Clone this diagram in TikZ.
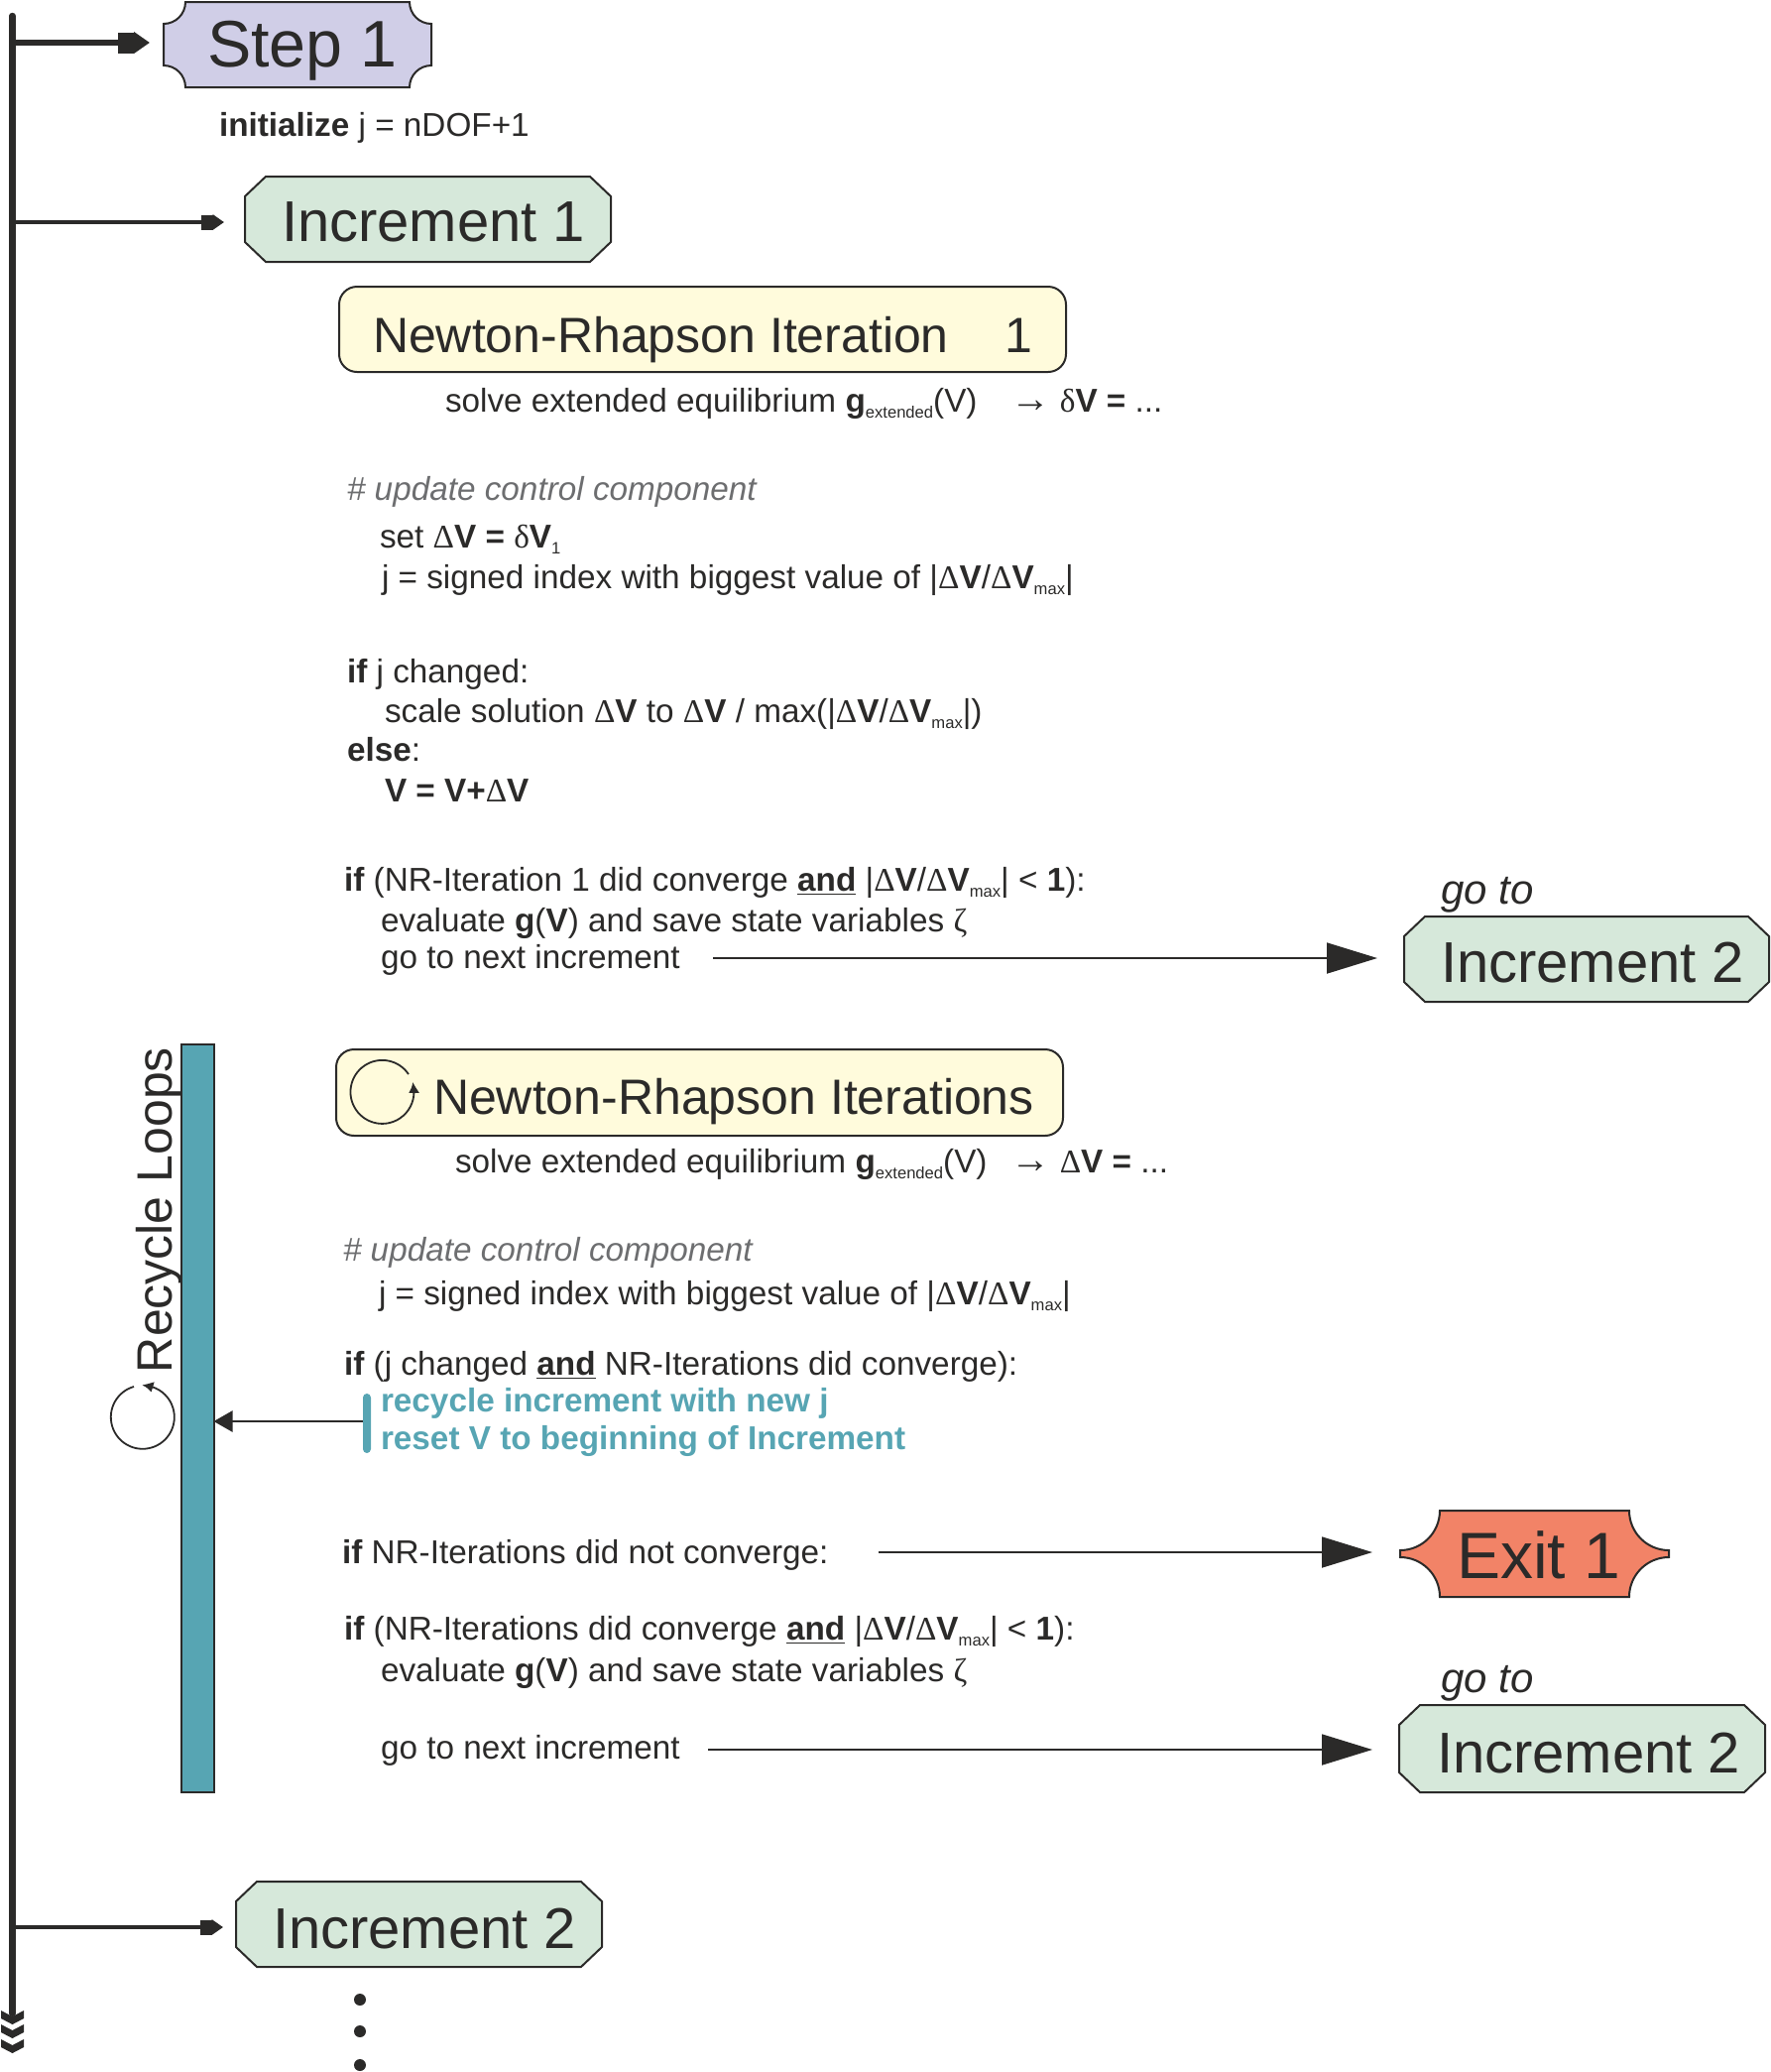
\documentclass[tikz,border=0pt]{standalone}
\usepackage{fontspec}
\setmainfont{Liberation Sans}
\newfontfamily\symf{Liberation Serif}
\usetikzlibrary{arrows.meta,bending}
\definecolor{ink}{HTML}{2B2A29}
\definecolor{stepfill}{HTML}{D0CEE7}
\definecolor{incfill}{HTML}{D6E8DA}
\definecolor{nrfill}{HTML}{FFFBDC}
\definecolor{exitfill}{HTML}{F28367}
\definecolor{teal}{HTML}{57A5B3}
\definecolor{note}{HTML}{6D6E70}
\newcommand{\szbody}{\fontsize{16.65}{19}\selectfont}
\newcommand{\Dl}{{\symf Δ}}
\newcommand{\dl}{{\symf δ}}
\newcommand{\zt}{{\symf ζ}}
\newcommand{\arr}{{\fontsize{20}{20}\selectfont\symf →}}
\newcommand{\bV}{\textbf{V}}
\newcommand{\subx}[1]{\raisebox{-3.2pt}{\fontsize{8.3}{9}\selectfont #1}}
\tikzset{
  x=0.5pt,y=0.5pt,
  every node/.style={text=ink,inner sep=0pt,outer sep=0pt},
  tx/.style={anchor=base west,font=\szbody},
  notetx/.style={anchor=base west,font=\szbody\itshape,text=note},
  tealtx/.style={anchor=base west,font=\szbody\bfseries,text=teal},
  bigtx/.style={anchor=base west,font=\fontsize{29}{32}\selectfont},
  gotx/.style={anchor=base west,font=\fontsize{21}{24}\selectfont\itshape},
  outline/.style={draw=ink,line width=1pt,line join=miter},
  branchA/.style={draw=ink,line width=3pt,-{Rectangle[length=8pt,width=10.5pt,sep=0pt]Triangle[length=8pt,width=10.5pt]}},
  branchB/.style={draw=ink,line width=2.2pt,-{Rectangle[length=5.7pt,width=7.5pt,sep=0pt]Triangle[length=5.7pt,width=7.5pt]}},
  golink/.style={draw=ink,line width=0.9pt,-{Triangle[length=25.5pt,width=15.5pt]}},
  backlink/.style={draw=ink,line width=1.2pt,-{Triangle[length=9.5pt,width=10.5pt]}},
  loopicon/.style={draw=ink,line width=0.9pt,-{Latex[length=5.5pt,width=5.5pt,flex=1,bend]}},
}
% \octbox{name}{x1}{y1}{x2}{y2}{fill}
\newcommand{\octbox}[6]{%
  \path[outline,fill=#6] (#2+21,-#3) -- (#4-21,-#3) -- (#4,-#3-20) -- (#4,-#5+20) -- (#4-21,-#5) -- (#2+21,-#5) -- (#2,-#5+20) -- (#2,-#3-20) -- cycle;
  \coordinate (#1) at ({0.5*(#2+#4)},{-0.5*(#3+#5)});
}
% \notchbox{name}{x1}{y1}{x2}{y2}{fill}{radius in px}
\newcommand{\notchbox}[7]{%
  \path[outline,fill=#6] (#2+#7,-#3) -- (#4-#7,-#3)
    arc[start angle=180,end angle=270,radius=#7*0.5pt]
    -- (#4,-#5+#7) arc[start angle=90,end angle=180,radius=#7*0.5pt]
    -- (#2+#7,-#5) arc[start angle=0,end angle=90,radius=#7*0.5pt]
    -- (#2,-#3-#7) arc[start angle=270,end angle=360,radius=#7*0.5pt] -- cycle;
  \coordinate (#1) at ({0.5*(#2+#4)},{-0.5*(#3+#5)});
}
\begin{document}
\begin{tikzpicture}
\useasboundingbox (0,0) rectangle (1786,-2089);
% trunk
\coordinate (trunktop) at (12.5,-16);
\coordinate (trunkbot) at (12.5,-2030);
\draw[ink,line width=3.2pt,line cap=round] (trunktop) -- (trunkbot);
\foreach \yy in {2027,2041,2056}{
  \fill[ink] (1,-\yy) -- (12.5,-\yy-6) -- (24,-\yy) -- (24,-\yy-8) -- (12.5,-\yy-14) -- (1,-\yy-8) -- cycle;
}
% step
\notchbox{step1}{165}{2}{435}{88}{stepfill}{22}
\node[anchor=base west,font=\fontsize{33.2}{36}\selectfont] (step1t) at (209,-67) {Step 1};
\node[tx] (init) at (221,-137) {\textbf{initialize} j = nDOF+1};
\coordinate (t1) at (12.5,-43);
\coordinate (t1e) at (151,-43);
\draw[branchA] (t1) -- (t1e);
% increment 1
\octbox{inc1}{247}{178}{616}{264}{incfill}
\node[bigtx] (inc1t) at (284,-243) {Increment 1};
\coordinate (t2) at (12.5,-224);
\coordinate (t2e) at (226,-224);
\draw[branchB] (t2) -- (t2e);
% NR 1
\path[outline,fill=nrfill,rounded corners=9pt] (342,-289) rectangle (1075,-375);
\node[anchor=base west,font=\fontsize{25}{30}\selectfont] (nr1t) at (376,-355.5) {Newton-Rhapson Iteration\hspace{28.5pt}1};
\node[tx] (a1) at (449,-415) {solve extended equilibrium \textbf{g}\subx{extended}(V)\hspace{17pt}\arr\ \dl\bV\ \textbf{=} ...};
\node[notetx] (a2) at (350,-504) {\# update control component};
\node[tx] (a3) at (383,-552) {set \Dl\bV\ \textbf{=} \dl\bV\subx{1}};
\node[tx] (a4) at (385,-593) {j = signed index with biggest value of |\Dl\bV/\Dl\bV\subx{max}|};
\node[tx] (a5) at (350,-688) {\textbf{if} j changed:};
\node[tx] (a6) at (388,-728) {scale solution \Dl\bV\ to \Dl\bV\ / max(|\Dl\bV/\Dl\bV\subx{max}|)};
\node[tx] (a7) at (350,-767) {\textbf{else}:};
\node[tx] (a8) at (388,-808) {\bV\ \textbf{=} \bV\textbf{+}\Dl\bV};
\node[tx] (a9) at (347,-898) {\textbf{if} (NR-Iteration 1 did converge \textbf{\underline{and}} |\Dl\bV/\Dl\bV\subx{max}| < \textbf{1}):};
\node[tx] (a10) at (384,-939) {evaluate \textbf{g}(\bV) and save state variables \zt};
\node[tx] (a11) at (384,-976) {go to next increment};
\node[gotx] (go1) at (1453,-911) {go to};
\octbox{inc2a}{1416}{924}{1784}{1010}{incfill}
\node[bigtx] (inc2at) at (1453,-990) {Increment 2};
\coordinate (l1) at (719,-966);
\coordinate (l1e) at (1389,-966);
\draw[golink] (l1) -- (l1e);
% recycle column
\node[draw=ink,fill=teal,line width=1pt,minimum width=16.5pt,minimum height=377pt] (column) at (199,-1430) {};
\node[rotate=90,anchor=base west,font=\fontsize{25}{30}\selectfont] (rl) at (173,-1384) {Recycle Loops};
\draw[loopicon] (135,-1398) arc[start angle=106,end angle=451,radius=16pt];
% NR 2
\path[outline,fill=nrfill,rounded corners=9pt] (339,-1058) rectangle (1072,-1145);
\draw[loopicon] (412,-1083) arc[start angle=34,end angle=378,radius=16pt];
\node[anchor=base west,font=\fontsize{25}{30}\selectfont] (nr2t) at (437,-1123) {Newton-Rhapson Iterations};
\node[tx] (b1) at (459,-1182) {solve extended equilibrium \textbf{g}\subx{extended}(V)\hspace{12pt}\arr\ \Dl\bV\ \textbf{=} ...};
\node[notetx] (b2) at (346,-1271) {\# update control component};
\node[tx] (b3) at (382,-1315) {j = signed index with biggest value of |\Dl\bV/\Dl\bV\subx{max}|};
\node[tx] (b4) at (347,-1386) {\textbf{if} (j changed \textbf{\underline{and}} NR-Iterations did converge):};
\node[tealtx] (b5) at (384,-1423) {recycle increment with new j};
\node[tealtx] (b6) at (384,-1461) {reset V to beginning of Increment};
\node[fill=teal,rounded corners=2pt,minimum width=4pt,minimum height=30pt] (tealbar) at (370,-1435) {};
\coordinate (ba) at (366,-1433);
\draw[backlink] (ba) -- (ba -| column.east);
\node[tx] (b7) at (345,-1576) {\textbf{if} NR-Iterations did not converge:};
\coordinate (l2) at (886,-1565);
\coordinate (l2e) at (1384,-1565);
\draw[golink] (l2) -- (l2e);
\notchbox{exit1}{1412}{1523}{1683}{1610}{exitfill}{40}
\node[anchor=base west,font=\fontsize{33}{36}\selectfont] (exit1t) at (1469,-1591) {Exit 1};
\node[tx] (b8) at (347,-1653) {\textbf{if} (NR-Iterations did converge \textbf{\underline{and}} |\Dl\bV/\Dl\bV\subx{max}| < \textbf{1}):};
\node[tx] (b9) at (384,-1695) {evaluate \textbf{g}(\bV) and save state variables \zt};
\node[tx] (b10) at (384,-1773) {go to next increment};
\node[gotx] (go2) at (1453,-1706) {go to};
\octbox{inc2b}{1411}{1719}{1780}{1807}{incfill}
\node[bigtx] (inc2bt) at (1449,-1787) {Increment 2};
\coordinate (l3) at (714,-1764);
\coordinate (l3e) at (1384,-1764);
\draw[golink] (l3) -- (l3e);
% increment 2
\octbox{inc2c}{238}{1897}{607}{1983}{incfill}
\node[bigtx] (inc2ct) at (275,-1964) {Increment 2};
\coordinate (t3) at (12.5,-1943);
\coordinate (t3e) at (225,-1943);
\draw[branchB] (t3) -- (t3e);
% dots
\foreach \yy/\nn in {2016/d1,2048/d2,2082/d3}{
  \node[circle,fill=ink,minimum size=6pt] (\nn) at (363,-\yy) {};
}
\end{tikzpicture}
\end{document}
